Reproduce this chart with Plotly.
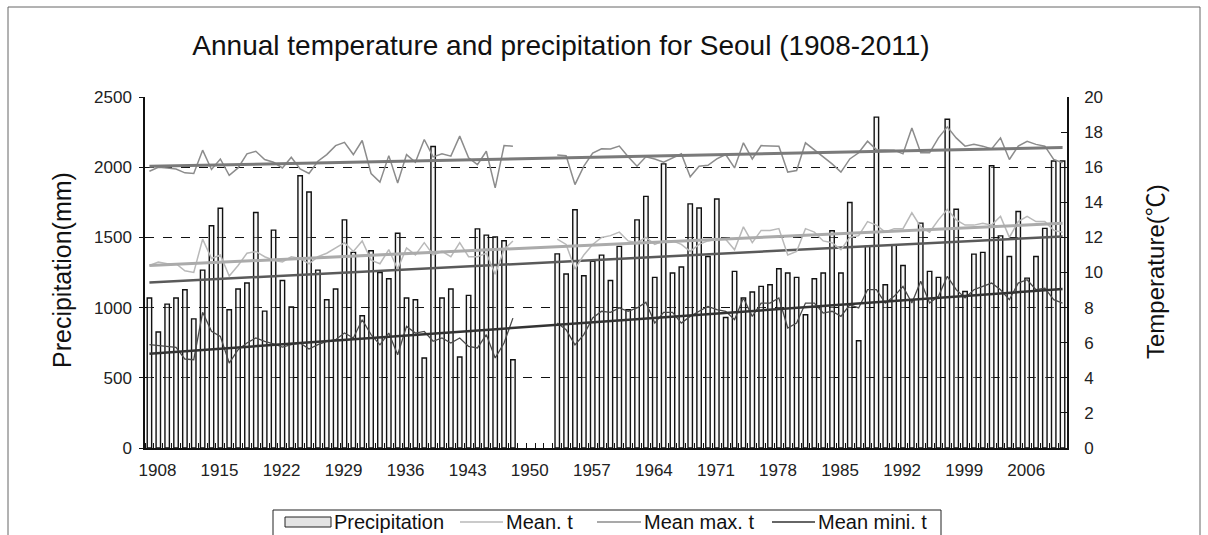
import plotly.graph_objects as go

years = list(range(1908, 2012))

precip = [1068, 826, 1025, 1068, 1127, 920, 1267, 1583, 1708, 985,
          1132, 1175, 1677, 975, 1552, 1193, 1004, 1939, 1823, 1267,
          1056, 1132, 1625, 1393, 942, 1405, 1250, 1205, 1530, 1068,
          1056, 641, 2147, 1068, 1132, 648, 1087, 1561, 1516, 1504,
          1476, 629, None, None, None, None, 1383, 1239, 1697, 1227,
          1329, 1374, 1193, 1436, 985, 1625, 1792, 1215, 2024, 1246,
          1289, 1739, 1709, 1364, 1773, 930, 1258, 1068, 1111, 1151,
          1163, 1277, 1246, 1215, 949, 1205, 1246, 1547, 1246, 1749,
          764, 1436, 2357, 1163, 1443, 1300, 1056, 1602, 1258, 1215,
          2342, 1700, 1115, 1381, 1393, 2010, 1511, 1364, 1685, 1210,
          1364, 1564, 2044, 2044]

mean_t = [10.4, 10.6, 10.5, 10.5, 10.1, 10.0, 11.9, 10.8, 11.0, 9.8,
          10.4, 11.1, 11.2, 10.9, 10.7, 10.6, 10.9, 10.8, 10.5, 10.9,
          11.1, 11.4, 11.7, 11.2, 11.8, 10.7, 10.5, 11.3, 10.2, 11.4,
          11.0, 11.7, 11.0, 11.2, 10.9, 11.7, 10.9, 10.9, 11.1, 9.9,
          11.3, 11.8, None, None, None, None, 11.9, 11.6, 10.2, 11.0,
          11.6, 12.0, 12.1, 12.3, 11.8, 11.7, 12.0, 11.6, 11.8, 11.8,
          11.6, 11.2, 11.6, 11.8, 11.9, 11.9, 11.3, 12.6, 11.7, 12.4,
          12.4, 12.5, 11.0, 11.2, 12.5, 12.3, 11.8, 11.7, 11.3, 12.0,
          12.1, 12.9, 12.7, 12.3, 12.5, 12.5, 13.4, 12.6, 12.3, 13.0,
          13.6, 13.0, 12.7, 12.7, 12.8, 12.7, 13.2, 12.0, 12.9, 13.2,
          12.9, 12.9, 12.4, 12.3]

max_t = [15.77, 16.0, 15.96, 15.9, 15.68, 15.64, 16.97, 15.87, 16.47, 15.54,
         15.96, 16.76, 16.91, 16.44, 16.28, 15.96, 16.57, 15.9, 15.64, 16.34,
         16.72, 17.23, 17.42, 16.72, 17.52, 15.64, 15.15, 16.66, 15.1, 16.72,
         16.28, 17.58, 16.59, 16.76, 16.63, 17.77, 16.53, 16.15, 16.91, 14.82,
         17.23, 17.2, None, None, None, None, 16.7, 16.65, 15.01, 16.06,
         16.8, 17.05, 17.04, 17.2, 16.59, 16.06, 16.59, 16.47, 16.28, 16.53,
         16.76, 15.45, 16.06, 16.11, 16.47, 16.72, 15.96, 17.39, 16.47, 17.23,
         17.23, 17.2, 15.72, 15.81, 17.39, 17.0, 16.59, 16.19, 15.72, 16.47,
         16.82, 17.48, 17.0, 17.0, 16.97, 16.76, 18.24, 16.82, 16.82, 17.67,
         18.3, 17.67, 17.2, 17.3, 17.2, 17.04, 17.67, 16.44, 17.2, 17.48,
         17.3, 17.2, 16.44, 16.25]

min_t = [5.89, 5.83, 5.79, 5.74, 5.07, 5.03, 7.73, 6.65, 6.36, 4.84,
         5.6, 5.98, 6.27, 6.08, 5.94, 5.75, 5.89, 5.98, 5.64, 5.89,
         6.08, 6.17, 6.55, 6.27, 7.31, 6.46, 5.88, 6.55, 5.31, 6.93,
         6.55, 6.64, 6.08, 6.27, 5.98, 6.27, 5.79, 5.7, 6.46, 5.13,
         5.98, 7.4, None, None, None, None, 7.12, 6.74, 5.88, 6.46,
         7.41, 7.79, 7.73, 7.98, 7.79, 7.98, 8.3, 7.12, 7.73, 7.73,
         7.12, 7.5, 7.79, 8.07, 7.88, 7.79, 7.31, 8.55, 7.5, 8.26,
         8.26, 8.55, 6.84, 7.12, 8.26, 8.26, 7.69, 7.79, 7.5, 8.16,
         7.98, 9.02, 9.02, 8.26, 8.64, 9.21, 8.26, 9.5, 8.26, 8.64,
         9.78, 9.02, 8.55, 9.02, 9.21, 9.4, 9.02, 8.45, 9.4, 9.59,
         9.02, 9.11, 8.45, 8.26]

# trend lines (start / end values)
trend_years = [1908, 2011]
trend_precip = [1179, 1507]
trend_mean = [10.4, 12.8]
trend_max = [16.05, 17.12]
trend_min = [5.37, 9.06]

legend_labels = ["Precipitation", "Mean. t", "Mean max. t", "Mean mini. t"]

FONT = "Liberation Sans, Arial, Noto Sans CJK KR, sans-serif"
C_MEAN, C_MAX, C_MIN = "#b9b9b9", "#8c8c8c", "#4a4a4a"

# plot-area geometry in pixels (used only to place decorations)
L, R, T, B = 145, 1067, 97, 448
PW, PH = R - L, B - T


def px(xp):
    return (xp - L) / PW


def py(yp):
    return (B - yp) / PH


fig = go.Figure()

fig.add_trace(go.Bar(
    x=years, y=precip, name=legend_labels[0], width=0.5,
    marker=dict(color="rgba(235,235,235,0.35)", line=dict(color="#111111", width=1.4)),
    yaxis="y",
))
fig.add_trace(go.Scatter(
    x=trend_years, y=trend_precip, mode="lines",
    line=dict(color="#5a5a5a", width=2.5), yaxis="y", hoverinfo="skip",
))
fig.add_trace(go.Scatter(
    x=years, y=mean_t, name=legend_labels[1], mode="lines", connectgaps=False,
    line=dict(color=C_MEAN, width=1.5), yaxis="y2",
))
fig.add_trace(go.Scatter(
    x=years, y=max_t, name=legend_labels[2], mode="lines", connectgaps=False,
    line=dict(color=C_MAX, width=1.5), yaxis="y2",
))
fig.add_trace(go.Scatter(
    x=years, y=min_t, name=legend_labels[3], mode="lines", connectgaps=False,
    line=dict(color=C_MIN, width=1.3), yaxis="y2",
))
fig.add_trace(go.Scatter(
    x=trend_years, y=trend_max, mode="lines",
    line=dict(color="#7a7a7a", width=3), yaxis="y2", hoverinfo="skip",
))
fig.add_trace(go.Scatter(
    x=trend_years, y=trend_mean, mode="lines",
    line=dict(color="#ababab", width=3), yaxis="y2", hoverinfo="skip",
))
fig.add_trace(go.Scatter(
    x=trend_years, y=trend_min, mode="lines",
    line=dict(color="#333333", width=2.5), yaxis="y2", hoverinfo="skip",
))

# manual legend (box, swatches, labels)
LEG_TOP, LEG_BOT, LEG_MID = 510, 548, 522
shapes = [
    dict(type="rect", xref="paper", yref="paper",
         x0=px(8), x1=px(1200), y0=py(560), y1=py(7),
         line=dict(color="#666666", width=1), fillcolor="rgba(0,0,0,0)", layer="below"),
    dict(type="rect", xref="paper", yref="paper",
         x0=px(273), x1=px(941), y0=py(LEG_BOT), y1=py(LEG_TOP),
         line=dict(color="#222222", width=1), fillcolor="white", layer="above"),
    dict(type="rect", xref="paper", yref="paper",
         x0=px(285), x1=px(331), y0=py(LEG_MID + 5), y1=py(LEG_MID - 5),
         line=dict(color="#222222", width=1), fillcolor="#e4e4e4", layer="above"),
]
line_swatches = [(460, 503, C_MEAN), (597, 641, C_MAX), (772, 815, "#333333")]
for x0, x1, c in line_swatches:
    shapes.append(dict(type="line", xref="paper", yref="paper",
                       x0=px(x0), x1=px(x1), y0=py(LEG_MID), y1=py(LEG_MID),
                       line=dict(color=c, width=1.5), layer="above"))

text_x = [332, 504, 642, 816]
annotations = [
    dict(text=lab, x=px(tx), y=py(LEG_MID), xref="paper", yref="paper",
         xanchor="left", yanchor="middle", showarrow=False,
         font=dict(family=FONT, size=20, color="#111111"))
    for lab, tx in zip(legend_labels, text_x)
]
annotations += [
    dict(text="Precipitation(mm)", x=px(62), y=py(270), xref="paper", yref="paper",
         xanchor="center", yanchor="middle", textangle=-90, showarrow=False,
         font=dict(family=FONT, size=25, color="#111111")),
    dict(text="Temperature(\u2103)", x=px(1155), y=py(272), xref="paper", yref="paper",
         xanchor="center", yanchor="middle", textangle=-90, showarrow=False,
         font=dict(family=FONT, size=24, color="#111111")),
]

fig.update_layout(
    width=1208, height=535,
    margin=dict(l=L, r=1208 - R, t=T, b=535 - B, autoexpand=False),
    paper_bgcolor="white", plot_bgcolor="white",
    font=dict(family=FONT, color="#111111", size=17),
    title=dict(
        text="Annual temperature and precipitation for Seoul (1908-2011)",
        x=px(561), xref="paper", xanchor="center",
        y=1 - 45 / 535, yref="container", yanchor="middle",
        font=dict(family=FONT, size=28, color="#111111"),
    ),
    bargap=0.5,
    showlegend=False,
    xaxis=dict(
        range=[1907.5, 2011.5], tickmode="linear", tick0=1908, dtick=7,
        showgrid=False, zeroline=False, showline=True, linecolor="#111111", linewidth=1.5,
        ticks="", tickfont=dict(size=17, color="#222222"), automargin=False,
        ticklabelshift=8, ticklabelstandoff=6,
        minor=dict(tickmode="linear", tick0=1907.5, dtick=1, ticks="inside",
                   ticklen=5, tickcolor="#111111", showgrid=False),
    ),
    yaxis=dict(
        range=[0, 2500], tickmode="linear", tick0=0, dtick=500,
        showgrid=True, gridcolor="#111111", griddash="dash", gridwidth=1,
        zeroline=False, showline=True, linecolor="#111111", linewidth=1.5,
        ticks="outside", ticklen=4, tickcolor="#111111", automargin=False,
        ticklabelstandoff=4,
        tickfont=dict(size=17, color="#222222"),
    ),
    yaxis2=dict(
        range=[0, 20], tickmode="linear", tick0=0, dtick=2,
        overlaying="y", side="right", showgrid=False, zeroline=False,
        showline=True, linecolor="#111111", linewidth=1.5,
        ticks="inside", ticklen=6, tickcolor="#111111", automargin=False,
        ticklabelstandoff=12,
        tickfont=dict(size=17, color="#222222"),
    ),
    shapes=shapes,
    annotations=annotations,
)

fig.write_html(
    "out.html",
    config={"displayModeBar": False},
    post_script="document.body.style.margin='0px';document.body.style.overflow='hidden';",
)
